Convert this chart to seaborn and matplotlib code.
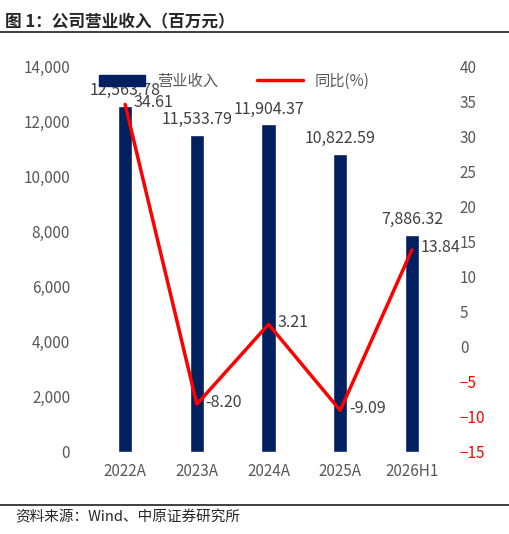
import matplotlib
matplotlib.use("Agg")
import matplotlib.pyplot as plt
import seaborn as sns
import pandas as pd
from matplotlib.lines import Line2D

years = ["2022A", "2023A", "2024A", "2025A", "2026H1"]
revenue = [12563.78, 11533.79, 11904.37, 10822.59, 7886.32]
yoy = [34.61, -8.20, 3.21, -9.09, 13.84]

sns.set_style("white")
plt.rcParams['font.family'] = ['Noto Sans CJK SC', 'DejaVu Sans']

df = pd.DataFrame({"year": years, "revenue": revenue, "yoy": yoy})

fig = plt.figure(figsize=(5.1, 5.34), dpi=100)
ax = fig.add_axes([0.147, 0.154, 0.745, 0.721])
sns.barplot(data=df, x="year", y="revenue", color="#002060", width=0.2,
            saturation=1, ax=ax)
ax.set_xlim(-0.7, 4.6)
ax.set_ylim(0, 14000)
ax.set_yticks(range(0, 14001, 2000))
ax.set_yticklabels([f"{v:,}" for v in range(0, 14001, 2000)])
ax.set_xlabel("")
ax.set_ylabel("")
for i, v in enumerate(revenue):
    ax.text(i, v + 250, f"{v:,.2f}", ha="center", va="bottom", fontsize=11.5, color="#404040")

ax2 = ax.twinx()
ax2.plot(range(len(years)), yoy, color="#FF0000", lw=2.5)
ax2.set_ylim(-15, 40)
ax2.set_yticks(range(-15, 41, 5))
for i, v in enumerate(yoy):
    ax2.text(i + 0.12, v + 0.3, f"{v:.2f}", ha="left", va="center", fontsize=11.5, color="#404040")

for a in (ax, ax2):
    for s in a.spines.values():
        s.set_visible(False)
    a.tick_params(length=0, labelsize=11, colors="#595959")
ax.tick_params(axis="x", pad=8)
for t, v in zip(ax2.get_yticklabels(), range(-15, 41, 5)):
    t.set_color("#FF0000" if v < 0 else "#595959")

handles = [plt.Rectangle((0, 0), 1, 1, color="#002060"),
           Line2D([0], [0], color="#FF0000", lw=2.5)]
ax.legend(handles, ["营业收入", "同比(%)"], loc="upper center", ncol=2, frameon=False,
          bbox_to_anchor=(0.42, 1.02), fontsize=11, labelcolor="#595959",
          handlelength=3, columnspacing=2.5)

fig.text(0.01, 0.975, "图 1：公司营业收入（百万元）", fontsize=12, fontweight="bold", va="top")
fig.add_artist(Line2D([0.0, 1.0], [0.94, 0.94], color="#1F1F1F", lw=1.2))
fig.add_artist(Line2D([0.0, 1.0], [0.055, 0.055], color="#1F1F1F", lw=1.2))
fig.text(0.03, 0.045, "资料来源：Wind、中原证券研究所", fontsize=10.5, va="top")

fig.savefig("out.png", dpi=100)
